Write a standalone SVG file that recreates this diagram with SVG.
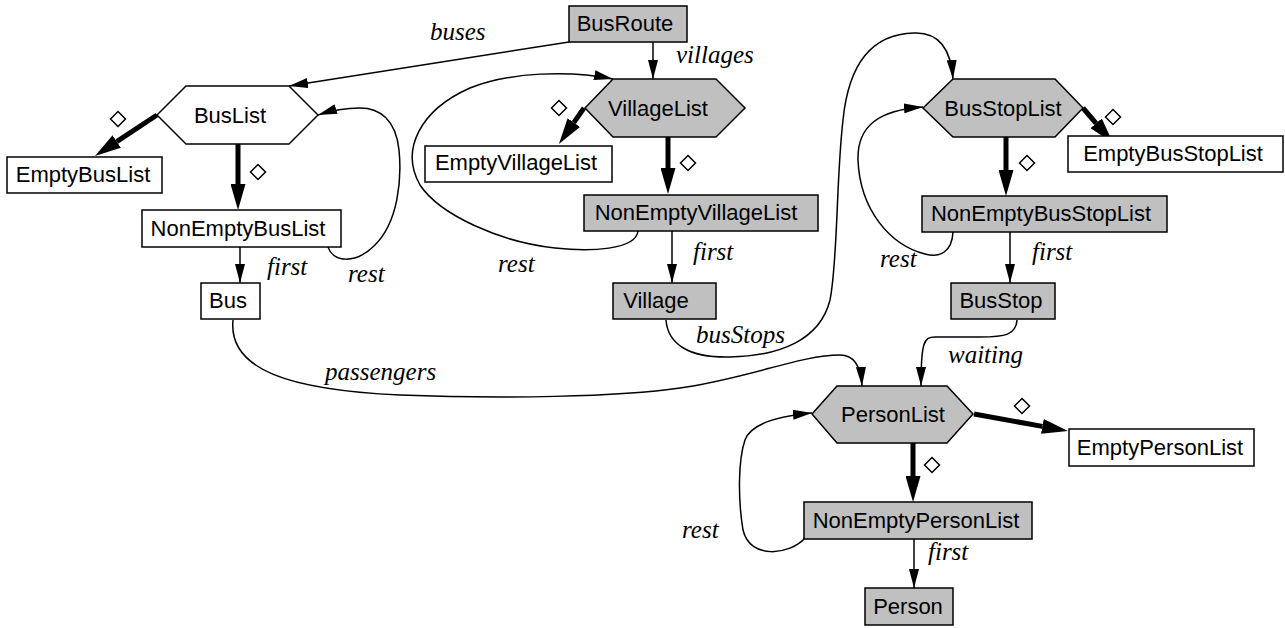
<svg xmlns="http://www.w3.org/2000/svg" width="1285" height="628" viewBox="0 0 1285 628">
<style>
.w{fill:#ffffff;stroke:#000;stroke-width:1.5}
.g{fill:#c0c0c0;stroke:#000;stroke-width:1.5}
.t{font-family:"Liberation Sans",Arial,Helvetica,sans-serif;font-size:22px;fill:#000;text-anchor:middle}
.e{font-family:"Liberation Serif","Times New Roman",serif;font-style:italic;font-size:25px;fill:#000}
.thin{fill:none;stroke:#000;stroke-width:1.5;marker-end:url(#ah)}
.thick{fill:none;stroke:#000;stroke-width:5;marker-end:url(#ahb)}
.dia{fill:#fff;stroke:#000;stroke-width:1.5}
</style>
<defs>
<marker id="ah" markerUnits="userSpaceOnUse" markerWidth="20" markerHeight="10" refX="19" refY="5" orient="auto" viewBox="0 0 20 10">
<path d="M0,0 L19,5 L0,10 z" fill="#000"/>
</marker>
<marker id="ahb" markerUnits="userSpaceOnUse" markerWidth="27" markerHeight="15" refX="0" refY="7.5" orient="auto" viewBox="0 0 27 15">
<path d="M0,0 L26,7.5 L0,15 z" fill="#000"/>
</marker>
<path id="dm" d="M0,-7.5 L7.5,0 L0,7.5 L-7.5,0 z"/>
</defs>

<g id="connectors">
<path class="thin" d="M569,42 L289,86"/>
<path class="thin" d="M653,42 L653,79"/>
<path class="thin" d="M240,247 L240,283"/>
<path class="thin" d="M672,231 L672,283"/>
<path class="thin" d="M1010,232 L1010,283"/>
<path class="thin" d="M914,539 L914,588"/>
<path class="thin" d="M328,247 C333,262 355,265 375,245 C398,222 402,180 399,150 C396,120 380,108 360,108 C345,108 330,111 318,115"/>
<path class="thin" d="M638,231 C636,250 590,252 555,248 C500,242 440,215 420,185 C400,150 420,110 470,88 C510,72 570,70 613,79"/>
<path class="thin" d="M953,232 C952,252 940,258 925,254 C890,245 860,210 858,160 C857,125 880,110 923,107"/>
<path class="thin" d="M805,538 C790,555 750,560 743,530 C738,500 738,460 745,440 C752,420 790,415 812,413"/>
<path class="thin" d="M666,320 C668,345 690,358 730,357 C780,356 820,340 830,300 C838,260 836,180 843,120 C848,70 868,34 914,33 C940,32 951,50 953,79"/>
<path class="thin" d="M233,320 C228,370 290,390 400,395 C500,399 620,397 680,388 C750,378 800,355 840,355 C855,355 861,368 862,386"/>
<path class="thin" d="M1017,320 C1016,335 1005,337 980,337 L935,337 C924,337 921,342 921,386"/>
<path class="thick" d="M157,115 L116.7,141.6"/>
<path class="thick" d="M238,144 L238,184"/>
<path class="thick" d="M584,108 L573.8,122.6"/>
<path class="thick" d="M668,137 L668,168"/>
<path class="thick" d="M1083,108 L1096.1,123.3"/>
<path class="thick" d="M1006,137 L1006,170"/>
<path class="thick" d="M974,414 L1042.4,426.4"/>
<path class="thick" d="M913,443 L913,476"/>
</g>

<g id="edge-labels">
<use href="#dm" class="dia" x="118" y="119"/>
<use href="#dm" class="dia" x="258" y="172"/>
<use href="#dm" class="dia" x="559" y="108"/>
<use href="#dm" class="dia" x="688" y="163"/>
<use href="#dm" class="dia" x="1113" y="117"/>
<use href="#dm" class="dia" x="1027" y="163"/>
<use href="#dm" class="dia" x="1022" y="406"/>
<use href="#dm" class="dia" x="932" y="465"/>
<text class="e" x="430" y="40">buses</text>
<text class="e" x="676" y="63">villages</text>
<text class="e" x="267" y="275">first</text>
<text class="e" x="348" y="282">rest</text>
<text class="e" x="693" y="260">first</text>
<text class="e" x="498" y="272">rest</text>
<text class="e" x="1032" y="260">first</text>
<text class="e" x="880" y="267">rest</text>
<text class="e" x="696" y="343">busStops</text>
<text class="e" x="325" y="380">passengers</text>
<text class="e" x="948" y="363">waiting</text>
<text class="e" x="928" y="560">first</text>
<text class="e" x="682" y="538">rest</text>
</g>

<g id="BusRoute"><rect class="g" x="569" y="6" width="118" height="36"/><text class="t" x="625" y="31">BusRoute</text></g>
<g id="BusList"><polygon class="w" points="157,115 186,86 289,86 318,115 289,144 186,144"/><text class="t" x="230" y="123">BusList</text></g>
<g id="EmptyBusList"><rect class="w" x="7" y="157" width="155" height="36"/><text class="t" x="83" y="182">EmptyBusList</text></g>
<g id="NonEmptyBusList"><rect class="w" x="142" y="210" width="199" height="37"/><text class="t" x="238" y="236">NonEmptyBusList</text></g>
<g id="Bus"><rect class="w" x="201" y="283" width="59" height="36"/><text class="t" x="228" y="308">Bus</text></g>
<g id="VillageList"><polygon class="g" points="585,108 613,79 716,79 745,108 716,137 613,137"/><text class="t" x="658" y="116">VillageList</text></g>
<g id="EmptyVillageList"><rect class="w" x="425" y="146" width="187" height="36"/><text class="t" x="516" y="170">EmptyVillageList</text></g>
<g id="NonEmptyVillageList"><rect class="g" x="584" y="195" width="234" height="36"/><text class="t" x="696" y="220">NonEmptyVillageList</text></g>
<g id="Village"><rect class="g" x="613" y="283" width="103" height="36"/><text class="t" x="656" y="308">Village</text></g>
<g id="BusStopList"><polygon class="g" points="923,108 953,79 1055,79 1083,108 1055,137 953,137"/><text class="t" x="1003" y="116">BusStopList</text></g>
<g id="EmptyBusStopList"><rect class="w" x="1068" y="136" width="215" height="36"/><text class="t" x="1173" y="161">EmptyBusStopList</text></g>
<g id="NonEmptyBusStopList"><rect class="g" x="922" y="196" width="245" height="36"/><text class="t" x="1041" y="221">NonEmptyBusStopList</text></g>
<g id="BusStop"><rect class="g" x="951" y="283" width="104" height="36"/><text class="t" x="1001" y="308">BusStop</text></g>
<g id="PersonList"><polygon class="g" points="812,414 837,386 947,386 973,414 947,443 837,443"/><text class="t" x="893" y="422">PersonList</text></g>
<g id="EmptyPersonList"><rect class="w" x="1069" y="429" width="185" height="37"/><text class="t" x="1160" y="455">EmptyPersonList</text></g>
<g id="NonEmptyPersonList"><rect class="g" x="804" y="502" width="228" height="37"/><text class="t" x="916" y="528">NonEmptyPersonList</text></g>
<g id="Person"><rect class="g" x="865" y="588" width="88" height="37"/><text class="t" x="908" y="614">Person</text></g>
</svg>
